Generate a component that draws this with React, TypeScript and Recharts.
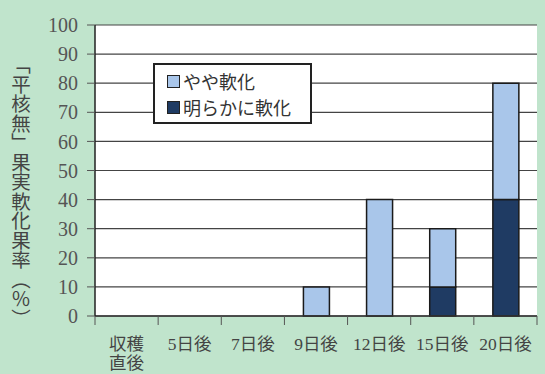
import React from 'react';
import { BarChart, Bar, XAxis, YAxis, CartesianGrid, Label } from 'recharts';

const categories = ['収穫\n直後', '5日後', '7日後', '9日後', '12日後', '15日後', '20日後'];
const slightlySoft = [0, 0, 0, 10, 40, 20, 40];
const clearlySoft = [0, 0, 0, 0, 0, 10, 40];
const yTicks = [0, 10, 20, 30, 40, 50, 60, 70, 80, 90, 100];
const seriesSlight = 'やや軟化';
const seriesClear = '明らかに軟化';
const yTitle = '「平核無」果実軟化果率（％）';

const LIGHT = '#a9c6ea';
const DARK = '#1f3b63';
const BG = '#c0e4cc';
const SERIF = "'Liberation Serif', 'DejaVu Serif', 'Noto Sans CJK JP', serif";

const data = categories.map((c, i) => ({
  name: c,
  slight: slightlySoft[i],
  clear: clearlySoft[i],
}));

const XTick = (props: any) => {
  const { x, y, payload, width, index } = props;
  const band = (width || 442) / categories.length;
  const lines = String(payload.value).split('\n');
  const axisY = y - 10;
  return (
    <g>
      <line x1={x - band / 2} x2={x - band / 2} y1={axisY} y2={axisY + 9} stroke="#555" strokeWidth={1} />
      {index === categories.length - 1 && (
        <line x1={x + band / 2} x2={x + band / 2} y1={axisY} y2={axisY + 9} stroke="#555" strokeWidth={1} />
      )}
      <text x={x} y={axisY + 34} textAnchor="middle" fill="#444" fontSize={17.5} fontFamily={SERIF}>
        {lines.map((l, i) => (
          <tspan key={i} x={x} dy={i === 0 ? 0 : 19}>
            {l}
          </tspan>
        ))}
      </text>
    </g>
  );
};

const YTitle = () => (
  <text
    x={21}
    y={55}
    fill="#444"
    fontSize={19.5}
    fontFamily="'Noto Sans CJK JP', sans-serif"
    style={{ writingMode: 'vertical-rl' as any }}
  >
    {yTitle}
  </text>
);

const LegendBox = () => {
  const items = [
    { name: seriesSlight, color: LIGHT },
    { name: seriesClear, color: DARK },
  ];
  return (
    <div
      style={{
        position: 'absolute',
        left: 153,
        top: 63,
        background: '#fff',
        border: '2px solid #222',
        width: 155,
        height: 57,
      }}
    >
      {items.map((it, i) => (
        <div
          key={i}
          style={{
            display: 'flex',
            alignItems: 'center',
            height: 26,
            marginTop: i === 0 ? 3 : 0,
            paddingLeft: 12,
            fontFamily: "'Noto Sans CJK JP', sans-serif",
            fontSize: 18,
            color: '#333',
            lineHeight: '26px',
          }}
        >
          <span
            style={{
              display: 'inline-block',
              width: 11,
              height: 11,
              background: it.color,
              border: '1.5px solid #222',
              marginRight: 3,
            }}
          />
          {it.name}
        </div>
      ))}
    </div>
  );
};

export default function App() {
  return (
    <div style={{ position: 'fixed', left: 0, top: 0, width: 545, height: 374, background: BG }}>
      <BarChart
        width={545}
        height={374}
        data={data}
        margin={{ top: 25, right: 8, left: 0, bottom: 0 }}
        barSize={26}
      >
        <CartesianGrid vertical={false} stroke="#444" strokeWidth={1.2} fill="#fff" fillOpacity={1} />
        <XAxis
          dataKey="name"
          height={58}
          interval={0}
          tickLine={false}
          axisLine={{ stroke: '#333', strokeWidth: 1.5 }}
          tick={<XTick />}
          tickSize={8}
          tickMargin={2}
        />
        <YAxis
          width={95}
          domain={[0, 100]}
          ticks={yTicks}
          interval={0}
          tickSize={8}
          tickMargin={9}
          axisLine={{ stroke: '#222', strokeWidth: 1.5 }}
          tickLine={{ stroke: '#555' }}
          tick={{ fill: '#555', fontSize: 20, fontFamily: SERIF }}
        >
          <Label content={<YTitle />} />
        </YAxis>
        <Bar dataKey="clear" stackId="a" name={seriesClear} fill={DARK} stroke="#1a1a1a" strokeWidth={1.5} isAnimationActive={false} />
        <Bar dataKey="slight" stackId="a" name={seriesSlight} fill={LIGHT} stroke="#1a1a1a" strokeWidth={1.5} isAnimationActive={false} />
      </BarChart>
      <LegendBox />
    </div>
  );
}
